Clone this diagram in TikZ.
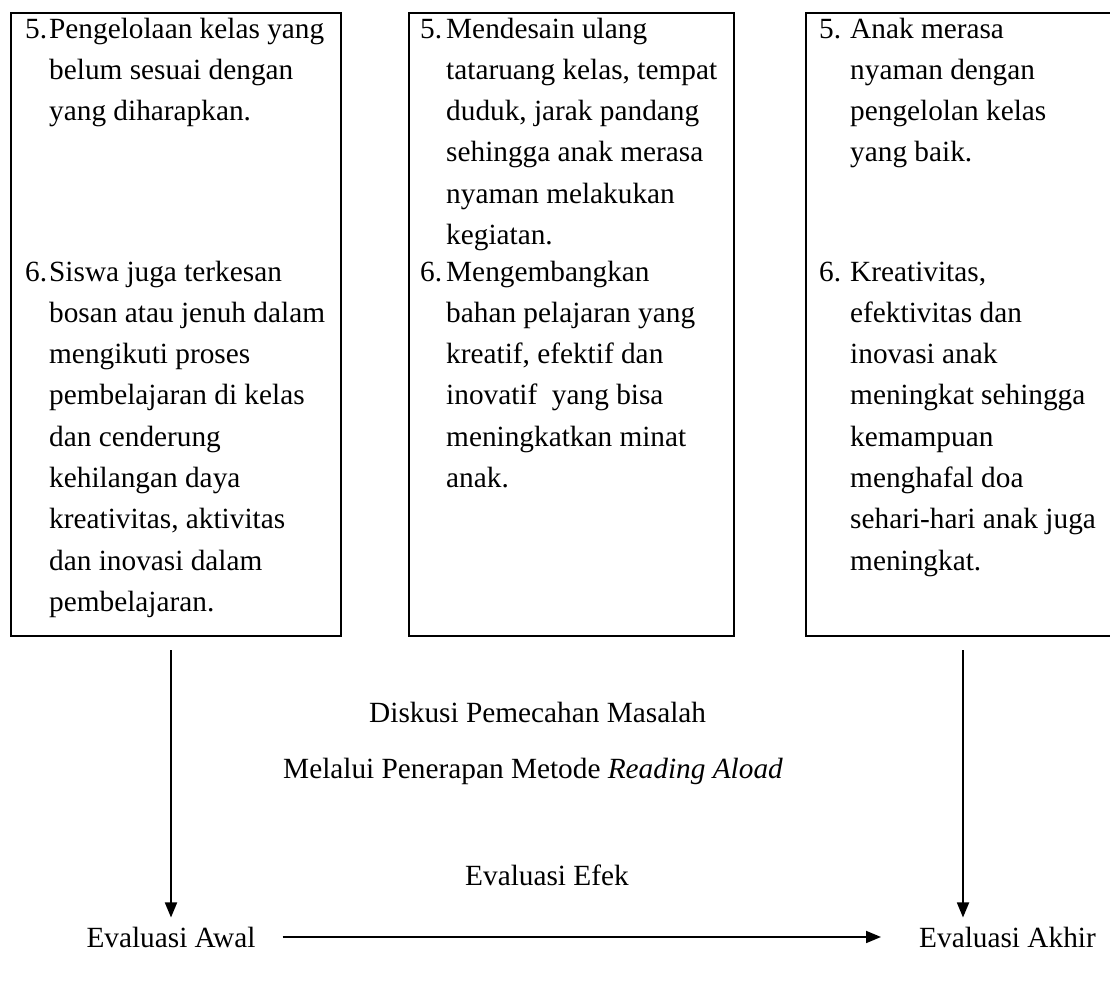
\documentclass[tikz,border=0pt]{standalone}
\usepackage{fontspec}
\setmainfont{Liberation Serif}
\usetikzlibrary{arrows.meta}
\begin{document}
\begin{tikzpicture}[x=1pt,y=-1pt,
  box/.style={draw, line width=2pt, anchor=north west, inner sep=0pt},
  itm/.style={anchor=base west, inner sep=0pt, font=\fontsize{29.3}{41.3}\selectfont},
  lbl/.style={inner sep=0pt, font=\fontsize{29.3}{41.3}\selectfont},
  arr/.style={line width=1.8pt, -{Triangle[length=15pt,width=12pt]}}]
\useasboundingbox (0,0) rectangle (1110,999);
% boxes
\node[box, minimum width=330pt, minimum height=623pt] (b1) at (10,12) {};
\node[box, minimum width=325pt, minimum height=623pt] (b2) at (408,12) {};
\node[box, minimum width=320pt, minimum height=623pt] (b3) at (805,12) {};
% box 1
\node[itm] (b1i5) at (25,38) {\begin{tabular}[t]{@{}p{24pt}@{}l@{}}5.&Pengelolaan kelas yang\\ &belum sesuai dengan\\ &yang diharapkan.\end{tabular}};
\node[itm] (b1i6) at (25,281) {\begin{tabular}[t]{@{}p{24pt}@{}l@{}}6.&Siswa juga terkesan\\ &bosan atau jenuh dalam\\ &mengikuti proses\\ &pembelajaran di kelas\\ &dan cenderung\\ &kehilangan daya\\ &kreativitas, aktivitas\\ &dan inovasi dalam\\ &pembelajaran.\end{tabular}};
% box 2
\node[itm] (b2i5) at (420,38) {\begin{tabular}[t]{@{}p{26pt}@{}l@{}}5.&Mendesain ulang\\ &tataruang kelas, tempat\\ &duduk, jarak pandang\\ &sehingga anak merasa\\ &nyaman melakukan\\ &kegiatan.\end{tabular}};
\node[itm] (b2i6) at (420,281) {\begin{tabular}[t]{@{}p{26pt}@{}l@{}}6.&Mengembangkan\\ &bahan pelajaran yang\\ &kreatif, efektif dan\\ &inovatif\ \ yang bisa\\ &meningkatkan minat\\ &anak.\end{tabular}};
% box 3
\node[itm] (b3i5) at (819,38) {\begin{tabular}[t]{@{}p{31pt}@{}l@{}}5.&Anak merasa\\ &nyaman dengan\\ &pengelolan kelas\\ &yang baik.\end{tabular}};
\node[itm] (b3i6) at (819,281) {\begin{tabular}[t]{@{}p{31pt}@{}l@{}}6.&Kreativitas,\\ &efektivitas dan\\ &inovasi anak\\ &meningkat sehingga\\ &kemampuan\\ &menghafal doa\\ &sehari-hari anak juga\\ &meningkat.\end{tabular}};
% lower texts
\node[lbl, anchor=base west] (disk) at (369,722) {Diskusi Pemecahan Masalah};
\node[lbl, anchor=base west] (mel) at (283,778) {Melalui Penerapan Metode \textit{Reading Aload}};
\node[lbl, anchor=base west] (efek) at (465,885) {Evaluasi Efek};
\node[lbl, anchor=base] (awal) at (171,947) {Evaluasi Awal};
\node[lbl, anchor=base west] (akhir) at (919,947) {Evaluasi Akhir};
% arrows
\coordinate (l1) at (171,650);
\coordinate (r1) at (963,650);
\draw[arr, shorten >=9pt] (l1) -- (l1 |- awal.north);
\draw[arr, shorten >=9pt] (r1) -- (r1 |- akhir.north);
\draw[arr, shorten <=27pt, shorten >=38pt] (awal.east) -- (akhir.west);
\end{tikzpicture}
\end{document}
